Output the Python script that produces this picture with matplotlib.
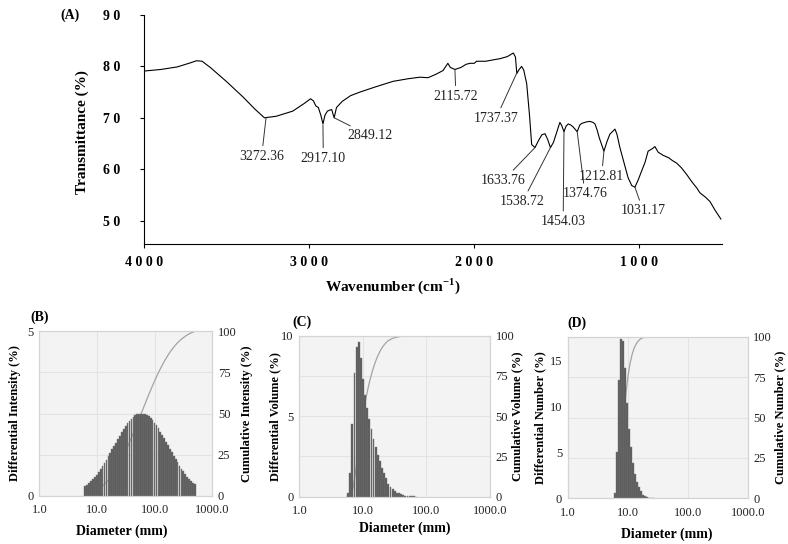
import numpy as np
import matplotlib
matplotlib.use("Agg")
import matplotlib.pyplot as plt
from matplotlib.ticker import FuncFormatter, NullLocator

plt.rcParams["font.family"] = ["Liberation Serif", "DejaVu Serif"]
plt.rcParams["mathtext.fontset"] = "custom"
plt.rcParams["mathtext.rm"] = "Liberation Serif"
plt.rcParams["mathtext.bf"] = "Liberation Serif:bold"

# (A) FTIR spectrum
wavenumber = [4000, 3900, 3800, 3720, 3683, 3650, 3600, 3500, 3400, 3330,
              3272, 3200, 3100, 3030, 2992, 2975, 2960, 2945, 2930, 2917,
              2905, 2890, 2875, 2864, 2855, 2849, 2835, 2800, 2750, 2693,
              2600, 2491, 2400, 2329, 2280, 2230, 2189, 2160, 2145, 2117,
              2080, 2050, 2026, 2000, 1986, 1930, 1880, 1844, 1800, 1763,
              1750, 1742, 1730, 1713, 1700, 1682, 1665, 1652, 1632, 1610,
              1590, 1571, 1555, 1538, 1520, 1501, 1481, 1470, 1456, 1443,
              1430, 1415, 1400, 1376, 1360, 1349, 1320, 1299, 1280, 1268,
              1255, 1242, 1214, 1195, 1178, 1147, 1135, 1117, 1090, 1067,
              1045, 1026, 1005, 986, 965, 946, 920, 905, 885, 855,
              820, 800, 774, 745, 713, 680, 650, 632, 600, 571, 540, 505]
transmittance = [79.1, 79.4, 79.9, 80.7, 81.1, 81.0, 79.8, 77.0, 74.0, 71.7,
                 70.0, 70.3, 71.3, 72.8, 73.7, 73.3, 72.3, 72.0, 70.5, 68.8,
                 70.5, 71.3, 71.5, 71.6, 70.6, 70.0, 72.0, 73.2, 74.3, 75.0,
                 76.0, 77.1, 77.6, 77.9, 77.8, 78.5, 79.2, 80.6, 79.8, 79.4,
                 79.8, 80.4, 80.6, 80.6, 81.0, 81.0, 81.3, 81.5, 81.9, 82.6,
                 81.8, 78.6, 79.3, 80.0, 79.3, 76.6, 70.5, 64.8, 64.2, 65.6,
                 66.7, 66.9, 65.8, 64.2, 65.2, 67.1, 69.1, 68.5, 67.3, 68.4,
                 68.8, 68.6, 68.2, 67.3, 68.6, 68.9, 69.2, 69.3, 69.1, 68.8,
                 67.6, 66.1, 63.5, 65.4, 66.8, 67.8, 66.8, 64.2, 61.0, 58.3,
                 56.8, 56.5, 58.0, 59.6, 61.3, 63.5, 64.0, 64.4, 63.3, 62.7,
                 62.2, 61.7, 61.2, 60.3, 59.0, 57.5, 56.3, 55.4, 54.6, 53.7, 52.0, 50.3]

peak_labels = ["3272.36", "2917.10", "2849.12", "2115.72", "1737.37", "1633.76",
               "1538.72", "1454.03", "1374.76", "1212.81", "1031.17"]
peak_points = [(3262, 70.0), (2917, 68.6), (2849, 70.0), (2117, 79.3), (1741, 78.8),
               (1632, 64.2), (1538, 64.2), (1456, 67.3), (1376, 67.3), (1214, 63.5),
               (1026, 56.5)]
peak_text = [(3289, 62.5), (2915, 62.1), (2632, 66.5), (2111, 74.2), (1868, 69.9),
             (1824, 57.8), (1707, 53.7), (1461, 49.8), (1329, 55.2), (1228, 58.6),
             (976, 51.9)]

# (B)-(D) particle size distributions, 30 bins per decade
intensity_range = (6.31, 501.0)
intensity = [0.30, 0.34, 0.39, 0.45, 0.51, 0.58, 0.65, 0.73, 0.82, 0.91,
             1.00, 1.10, 1.20, 1.30, 1.41, 1.52, 1.62, 1.73, 1.83, 1.94,
             2.03, 2.12, 2.20, 2.28, 2.34, 2.40, 2.44, 2.47, 2.49, 2.50,
             2.50, 2.48, 2.45, 2.41, 2.35, 2.29, 2.22, 2.14, 2.05, 1.95,
             1.85, 1.75, 1.65, 1.54, 1.43, 1.32, 1.22, 1.12, 1.02, 0.92,
             0.83, 0.75, 0.67, 0.59, 0.53, 0.46, 0.40, 0.35]
volume_range = (5.89, 68.7)
volume = [0.25, 1.5, 4.5, 7.7, 9.3, 9.6, 8.6, 7.3, 6.3, 5.5,
          4.8, 4.2, 3.6, 3.1, 2.6, 2.2, 1.8, 1.45, 1.15, 0.8,
          0.6, 0.45, 0.34, 0.26, 0.2, 0.15, 0.1, 0.07, 0.05, 0.03,
          0.02, 0.015, 0.01]
number_range = (6.17, 26.5)
number = [0.6, 5.0, 12.9, 17.4, 17.1, 14.2, 10.4, 7.5, 5.6, 3.8,
          2.7, 1.8, 1.2, 0.75, 0.4, 0.22, 0.12, 0.06, 0.03, 0.02]

W, H = 788, 544
fig = plt.figure(figsize=(W / 100, H / 100), dpi=100)


def box(left, top, right, bottom):
    return [left / W, 1 - bottom / H, (right - left) / W, (bottom - top) / H]


# ---- panel A ----
ax = fig.add_axes(box(144.3, 15, 721.7, 243.7))
ax.plot(wavenumber, transmittance, color="black", lw=0.8)
ax.set_xlim(4000, 500)
ax.set_ylim(45.5, 90)
ax.set_xticks([4000, 3000, 2000, 1000])
ax.set_yticks([50, 60, 70, 80, 90])
spaced = FuncFormatter(lambda v, p: " ".join(str(int(round(v)))))
ax.xaxis.set_major_formatter(spaced)
ax.yaxis.set_major_formatter(spaced)
for s in ["top", "right"]:
    ax.spines[s].set_visible(False)
for s in ["left", "bottom"]:
    ax.spines[s].set_linewidth(0.8)
ax.tick_params(axis="x", length=3, width=0.8, pad=6)
ax.tick_params(axis="y", length=3, width=0.8, pad=14)
for t in ax.get_xticklabels() + ax.get_yticklabels():
    t.set_fontweight("bold")
    t.set_fontsize(10)
ax.set_ylabel("Transmittance (%)", fontsize=11, fontweight="bold")
ax.yaxis.set_label_coords(-0.096, 0.49)
ax.set_xlabel(r"Wavenumber (cm$^{\mathbf{-1}}$)", fontsize=11, fontweight="bold")
ax.xaxis.set_label_coords(0.43, -0.141)

for lab, xy, xt in zip(peak_labels, peak_points, peak_text):
    ax.annotate(lab, xy=xy, xytext=xt, ha="center", va="center", fontsize=10,
                color="#222222",
                arrowprops=dict(arrowstyle="-", lw=0.7, color="#333333",
                                shrinkA=1, shrinkB=0))

fig.text(70 / W, 1 - 15 / H, "(A)", fontsize=10, fontweight="bold",
         ha="center", va="center")


# ---- panels B-D ----
def size_panel(rect, rng, heights, ymax, yticks, name, tag, tag_xy,
               ylab_x, yrlab_x, xlab_xy):
    n = len(heights)
    centres = np.geomspace(rng[0], rng[1], n)
    half = (np.log10(rng[1]) - np.log10(rng[0])) / (n - 1) / 2
    lefts = 10 ** (np.log10(centres) - half)
    rights = 10 ** (np.log10(centres) + half)

    ax2 = fig.add_axes(rect)
    axb = ax2.twinx()
    # put the bars in front of the cumulative curve
    ax2.yaxis.tick_right()
    ax2.yaxis.set_label_position("right")
    axb.yaxis.tick_left()
    axb.yaxis.set_label_position("left")
    axb.set_zorder(ax2.get_zorder() + 1)
    axb.patch.set_visible(False)
    ax2.set_facecolor("#f3f3f3")

    axb.bar(lefts, heights, width=(rights - lefts) * 0.88, align="edge",
            color="#595959", edgecolor="#7a7a7a", linewidth=0.3)
    cum = np.cumsum(heights) / np.sum(heights) * 100
    cx = np.concatenate([[lefts[0]], rights, [1000]])
    cy = np.concatenate([[0], cum, [100]])
    ax2.plot(cx, cy, color="#a3a3a3", lw=0.9)

    for a in (ax2, axb):
        a.set_xscale("log")
        a.set_xlim(1, 1000)
        for s in a.spines.values():
            s.set_color("#d4d4d4")
            s.set_linewidth(0.8)
    ax2.set_xticks([1, 10, 100, 1000])
    ax2.set_xticklabels(["1.0", "10.0", "100.0", "1000.0"])
    ax2.xaxis.set_minor_locator(NullLocator())
    axb.xaxis.set_minor_locator(NullLocator())
    ax2.set_ylim(0, 100)
    ax2.set_yticks([0, 25, 50, 75, 100])
    axb.set_ylim(0, ymax)
    axb.set_yticks(yticks)
    ax2.grid(True, color="#e3e3e3", lw=0.8)
    for a in (ax2, axb):
        a.tick_params(length=0, labelsize=9, labelcolor="#222222", pad=4)
    ax2.tick_params(axis="x", pad=6)

    axb.set_ylabel("Differential " + name + " (%)", fontsize=9, fontweight="bold")
    axb.yaxis.set_label_coords(ylab_x, 0.5)
    ax2.set_ylabel("Cumulative " + name + " (%)", fontsize=9, fontweight="bold",
                   rotation=90)
    ax2.yaxis.set_label_coords(yrlab_x, 0.5)
    ax2.set_xlabel("Diameter (mm)", fontsize=10, fontweight="bold")
    ax2.xaxis.set_label_coords(*xlab_xy)
    fig.text(tag_xy[0] / W, 1 - tag_xy[1] / H, tag, fontsize=10,
             fontweight="bold", ha="center", va="center")


size_panel(box(39.3, 331, 212.3, 496), intensity_range, intensity, 5, [0, 5],
           "Intensity", "(B)", (40, 317), -0.106, 1.164, (0.476, -0.17))
size_panel(box(299.3, 335.7, 490, 496.7), volume_range, volume, 10, [0, 5, 10],
           "Volume", "(C)", (302, 322), -0.096, 1.109, (0.554, -0.157))
size_panel(box(567.7, 336.7, 747.7, 498.3), number_range, number, 17.6,
           [0, 5, 10, 15], "Number", "(D)", (577, 323), -0.121, 1.146, (0.55, -0.178))

fig.savefig("out.png", dpi=100)
